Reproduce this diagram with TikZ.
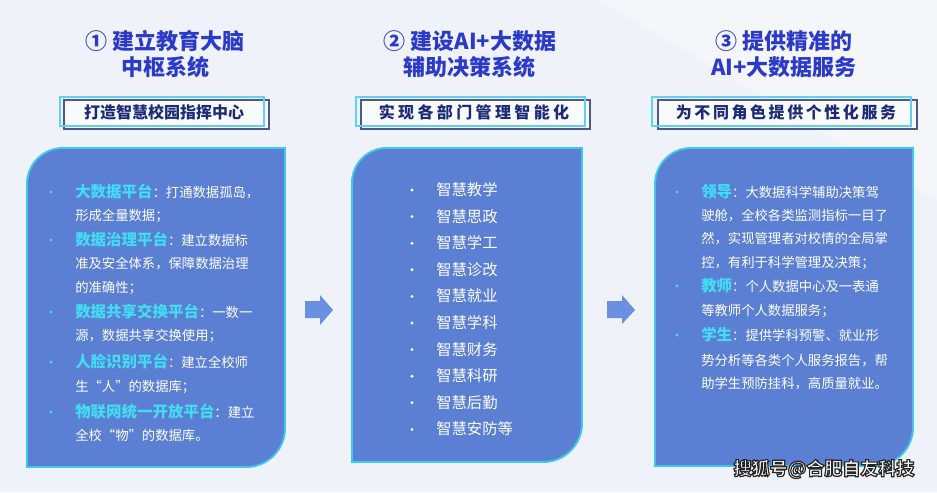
\documentclass[tikz,border=0pt]{standalone}
\usepackage{fontspec}
\setmainfont{Noto Sans CJK SC}
\definecolor{bgc}{HTML}{EFF2F8}
\definecolor{panelblue}{HTML}{5A7FD3}
\definecolor{panelcyan}{HTML}{3CC8EF}
\definecolor{titleblue}{HTML}{2B3AC9}
\definecolor{subnavy}{HTML}{1D2A78}
\definecolor{boxcyan}{HTML}{62D0F2}
\definecolor{boxdark}{HTML}{4C5A88}
\definecolor{labelcyan}{HTML}{42DDF3}
\definecolor{arrowblue}{HTML}{6A90E0}
\newcommand\hl[1]{{\fontsize{11.6}{13}\selectfont\bfseries\color{labelcyan}#1}}
\newcommand\olt[1]{{\color{white}\special{pdf:literal direct 0.15 G 2 Tr 0.9 w}#1\special{pdf:literal direct 0 Tr}}}
\tikzset{
  panel/.style={fill=panelblue, draw=panelcyan, line width=1.4pt},
  ttl/.style={font=\fontsize{16.5}{20}\selectfont\bfseries, text=titleblue, inner sep=0},
  sub/.style={font=\fontsize{12}{14}\selectfont\bfseries, text=subnavy, inner sep=0},
  body/.style={font=\fontsize{10}{12}\selectfont, text=white, anchor=base west, inner sep=0},
  bodyb/.style={font=\fontsize{11.5}{13}\selectfont, text=white, anchor=base west, inner sep=0},
  cbox/.style={draw=boxcyan, line width=1pt},
  dbox/.style={draw=boxdark, line width=1.2pt, fill=white!60!bgc},
  bul/.style={fill=labelcyan},
  wbul/.style={fill=white},
  arr/.style={fill=arrowblue},
  wm/.style={font=\fontsize{13.5}{15}\selectfont\bfseries, inner sep=0}
}
\begin{document}
\begin{tikzpicture}[x=0.75pt,y=-0.75pt]
\useasboundingbox (0,0) rectangle (937,492);
\fill[bgc] (0,0) rectangle (937,492);
\fill[white, opacity=0.35] (600,0) -- (937,0) -- (937,200) -- cycle;

% titles
\node[ttl] (t1a) at (165,41) {① 建立教育大脑};
\node[ttl] (t1b) at (165,67) {中枢系统};
\node[ttl] (t2a) at (470,41) {② 建设AI+大数据};
\node[ttl] (t2b) at (469,67) {辅助决策系统};
\node[ttl] (t3a) at (784,41) {③ 提供精准的};
\node[ttl] (t3b) at (784,67) {AI+大数据服务};

% subtitle boxes
\draw[dbox] (64,100) rectangle (269,129);
\draw[cbox] (60,97) rectangle (264,126);
\node[sub] (s1) at (164,112) {打造智慧校园指挥中心};
\draw[dbox] (361,100) rectangle (590,129);
\draw[cbox] (356,97) rectangle (585,126);
\node[sub] (s2) at (474,112) {\addfontfeature{LetterSpace=21}实现各部门管理智能化};
\draw[dbox] (658,100) rectangle (917,129);
\draw[cbox] (652,97) rectangle (911,126);
\node[sub] (s3) at (786,112) {\addfontfeature{LetterSpace=16}为不同角色提供个性化服务};

% panels
\draw[panel] (27,250) [rounded corners=27pt] -- (27,148) -- (150,148) [sharp corners] -- (285,148) -- (285,300) [rounded corners=29pt] -- (285,467) -- (150,467) [sharp corners] -- (27,467) -- cycle;
\draw[panel] (352,250) [rounded corners=26pt] -- (352,148) -- (450,148) [sharp corners] -- (582,148) -- (582,300) [rounded corners=29pt] -- (582,462) -- (450,462) [sharp corners] -- (352,462) -- cycle;
\draw[panel] (655,250) [rounded corners=27pt] -- (655,148) -- (780,148) [sharp corners] -- (913,148) -- (913,300) [rounded corners=29pt] -- (913,466) -- (780,466) [sharp corners] -- (655,466) -- cycle;

% arrows
\fill[arr] (305,301) -- (320,301) -- (320,295) -- (333,310) -- (320,325) -- (320,318) -- (305,318) -- cycle;
\fill[arr] (607,301) -- (622,301) -- (622,295) -- (635,310) -- (622,324) -- (622,318) -- (607,318) -- cycle;

% panel 1 text
\foreach \y in {192,240,312,362,412} { \fill[bul] (51,\y) circle (1.6); }
\node[body] (p1l1) at (75,197) {\hl{大数据平台}：打通数据孤岛，};
\node[body] (p1l2) at (75,220) {形成全量数据；};
\node[body] (p1l3) at (75,245) {\hl{数据治理平台}：建立数据标};
\node[body] (p1l4) at (75,268) {准及安全体系，保障数据治理};
\node[body] (p1l5) at (75,292) {的准确性；};
\node[body] (p1l6) at (75,317) {\hl{数据共享交换平台}：一数一};
\node[body] (p1l7) at (75,340) {源，数据共享交换使用；};
\node[body] (p1l8) at (75,367) {\hl{人脸识别平台}：建立全校师};
\node[body] (p1l9) at (75,391) {生“人”的数据库；};
\node[body] (p1l10) at (75,417) {\hl{物联网统一开放平台}：建立};
\node[body] (p1l11) at (75,440) {全校“物”的数据库。};

% panel 2 text
\foreach \t [count=\i from 0] in {智慧教学,智慧思政,智慧学工,智慧诊改,智慧就业,智慧学科,智慧财务,智慧科研,智慧后勤,智慧安防等} {
  \fill[wbul] (412,190+26.6*\i) circle (1.6);
  \node[bodyb] (p2l\i) at (436,195.5+26.6*\i) {\t};
}

% panel 3 text
\foreach \y in {192,286,335} { \fill[bul] (677,\y) circle (1.6); }
\node[body] (p3l1) at (701,197) {\hl{领导}：大数据科学辅助决策驾};
\node[body] (p3l2) at (701,220) {驶舱，全校各类监测指标一目了};
\node[body] (p3l3) at (701,243) {然，实现管理者对校情的全局掌};
\node[body] (p3l4) at (701,267) {控，有利于科学管理及决策；};
\node[body] (p3l5) at (701,291) {\hl{教师}：个人数据中心及一表通};
\node[body] (p3l6) at (701,315) {等教师个人数据服务；};
\node[body] (p3l7) at (701,340) {\hl{学生}：提供学科预警、就业形};
\node[body] (p3l8) at (701,365) {势分析等各类个人服务报告，帮};
\node[body] (p3l9) at (701,388) {助学生预防挂科，高质量就业。};

% watermark
\node[wm] (wm) at (824,469) {\olt{搜狐号@合肥自友科技}};
\end{tikzpicture}
\end{document}
